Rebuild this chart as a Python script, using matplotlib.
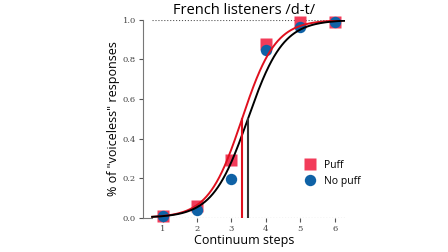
import numpy as np
import matplotlib
matplotlib.use("Agg")
import matplotlib.pyplot as plt

# data
steps = [1, 2, 3, 4, 5, 6]
puff = [0.01, 0.06, 0.29, 0.88, 0.99, 0.99]
no_puff = [0.01, 0.04, 0.195, 0.848, 0.963, 0.99]

# logistic fits (midpoint, slope)
puff_mid, puff_slope = 3.31, 2.05
nopuff_mid, nopuff_slope = 3.48, 1.95

red = '#f23c5a'
blue = '#0f62a6'
line_red = '#e0101e'

plt.rcParams['font.family'] = ['Open Sans', 'DejaVu Sans']


def logistic(x, mid, k):
    return 1.0 / (1.0 + np.exp(-k * (x - mid)))


fig = plt.figure(figsize=(4.48, 2.52), dpi=100)
ax = fig.add_axes([0.319, 0.136, 0.451, 0.785])

xs = np.linspace(0.7, 6.3, 300)
ax.plot([0.7, 6.3], [0, 0], ':', color='#555555', lw=0.8)
ax.plot([0.7, 6.3], [1, 1], ':', color='#555555', lw=0.8)

ax.plot(steps, puff, 's', color=red, ms=8.6, mec='none', clip_on=False,
        label='Puff', zorder=3)
ax.plot(steps, no_puff, 'o', color=blue, ms=8.2, mec='none', clip_on=False,
        label='No puff', zorder=4)

ax.plot(xs, logistic(xs, puff_mid, puff_slope), color=line_red, lw=1.4, zorder=5)
ax.plot(xs, logistic(xs, nopuff_mid, nopuff_slope), color='black', lw=1.4, zorder=5)

ax.plot([puff_mid, puff_mid], [0, 0.5], color=line_red, lw=1.5, zorder=5)
ax.plot([nopuff_mid, nopuff_mid], [0, 0.5], color='#333333', lw=1.5, zorder=5)

ax.set_xlim(0.43, 6.3)
ax.set_ylim(0, 1)
ax.set_xticks(steps)
ax.set_yticks([0, 0.2, 0.4, 0.6, 0.8, 1.0])
ax.set_yticklabels(['0.0', '0.2', '0.4', '0.6', '0.8', '1.0'])
ax.tick_params(labelsize=6, colors='#555555', length=3, width=0.8,
               labelcolor='#444444', pad=2)
for lab in ax.get_xticklabels() + ax.get_yticklabels():
    lab.set_family('DejaVu Serif')

ax.spines['top'].set_visible(False)
ax.spines['right'].set_visible(False)
ax.spines['left'].set_color('#777777')
ax.spines['bottom'].set_color('#777777')
ax.spines['bottom'].set_bounds(0.43, 0.7)

ax.set_title('French listeners /d-t/', fontsize=10.5, pad=4)
ax.set_xlabel('Continuum steps', fontsize=9, labelpad=1)
ax.set_ylabel('% of "voiceless" responses', fontsize=9, labelpad=2)

ax.legend(loc='center left', bbox_to_anchor=(0.75, 0.225), frameon=False,
          fontsize=7.5, handletextpad=0.3, labelspacing=0.5, borderpad=0)

fig.savefig('out.png', dpi=100)
